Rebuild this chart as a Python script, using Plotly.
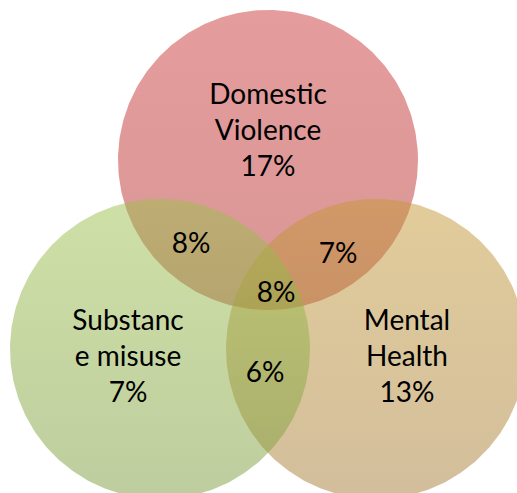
import numpy as np
import plotly.graph_objects as go

# ---- data ----
set_names = ["Domestic<br>Violence", "Mental<br>Health", "Substanc<br>e misuse"]
set_only_pct = ["17%", "13%", "7%"]
overlap_names = ["DV & SM", "DV & MH", "All three", "SM & MH"]
overlap_pct = ["8%", "7%", "8%", "6%"]

# ---- layout (pixel-like coordinates) ----
W, H = 517, 493
R = 150
centers = [(268, 160), (376, 349), (160, 349)]  # DV, MH, SM (draw order)
top_cols = [(203, 57, 57), (197, 153, 55), (157, 193, 77)]
bot_cols = [(179, 45, 45), (165, 125, 55), (125, 155, 61)]
ALPHA = 0.5

set_label_pos = [(268, 133), (407, 359), (128, 359)]
overlap_pos = [(191, 246), (338, 256), (276, 295), (265, 375)]

fig = go.Figure()
t = np.linspace(0, 2 * np.pi, 361)
for (cx, cy), tc, bc in zip(centers, top_cols, bot_cols):
    xs = cx + R * np.cos(t)
    ys = cy + R * np.sin(t)
    fig.add_trace(go.Scatter(
        x=xs, y=ys, mode="lines", fill="toself",
        line=dict(width=0, color="rgba(0,0,0,0)"),
        fillgradient=dict(
            type="vertical",
            start=cy - R, stop=cy + R,
            colorscale=[[0, f"rgba({tc[0]},{tc[1]},{tc[2]},{ALPHA})"],
                        [1, f"rgba({bc[0]},{bc[1]},{bc[2]},{ALPHA})"]],
        ),
        hoverinfo="skip", showlegend=False,
    ))

font = dict(family="Lato, Liberation Sans, sans-serif", size=28, color="black")
fig.add_trace(go.Scatter(
    x=[p[0] for p in set_label_pos], y=[p[1] for p in set_label_pos],
    text=[f"{n}<br>{p}" for n, p in zip(set_names, set_only_pct)],
    mode="text", textfont=font, textposition="middle center",
    hoverinfo="skip", showlegend=False,
))
fig.add_trace(go.Scatter(
    x=[p[0] for p in overlap_pos], y=[p[1] for p in overlap_pos],
    text=overlap_pct, customdata=overlap_names,
    mode="text", textfont=font, textposition="middle center",
    hoverinfo="skip", showlegend=False,
))

fig.update_layout(
    width=W, height=H,
    margin=dict(l=0, r=0, t=0, b=0),
    paper_bgcolor="white", plot_bgcolor="white",
    xaxis=dict(range=[0, W], visible=False, fixedrange=True),
    yaxis=dict(range=[H, 0], visible=False, fixedrange=True),
)
fig.write_html(
    "out.html",
    config={"displayModeBar": False, "staticPlot": True},
    post_script="document.body.style.margin='0';document.body.style.overflow='hidden';",
)
